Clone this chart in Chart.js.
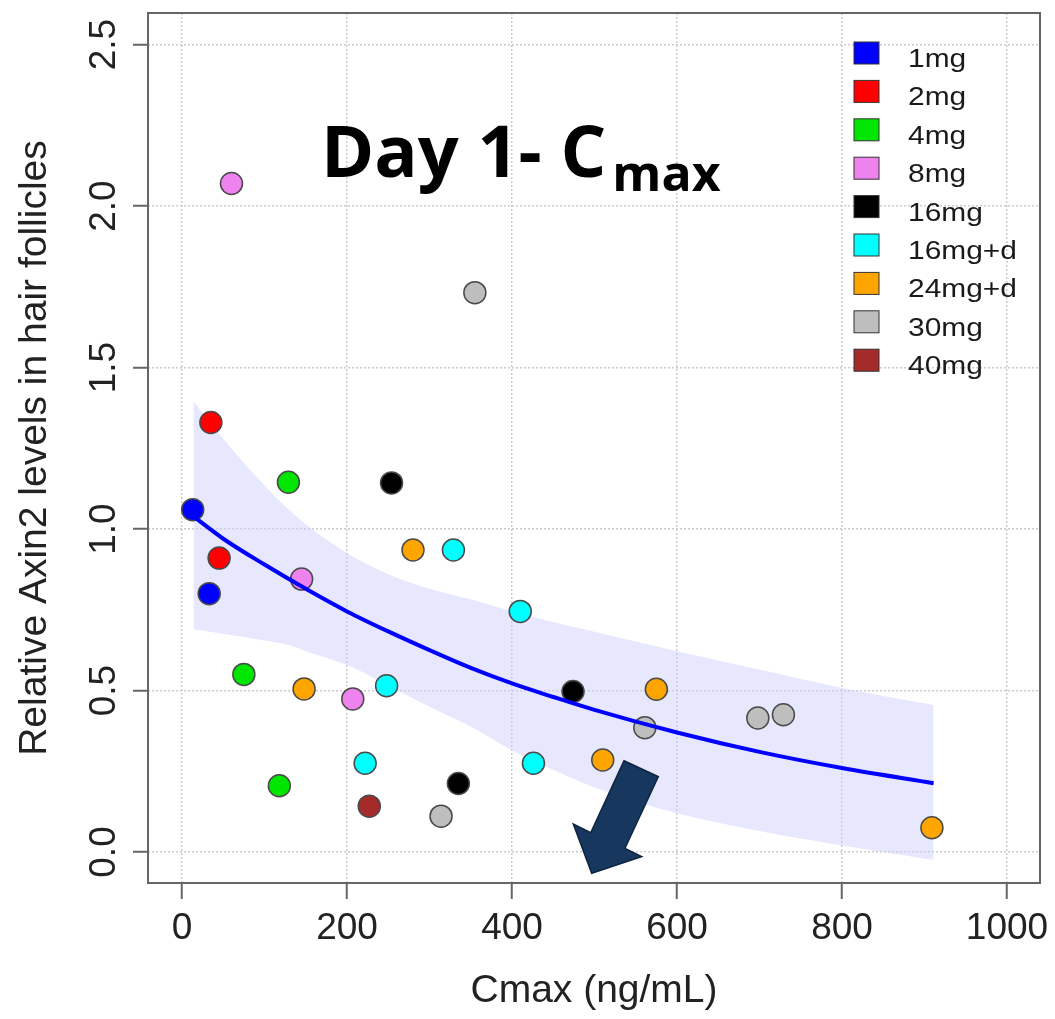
<!DOCTYPE html>
<html lang="en">
<head>
    <meta charset="UTF-8">
    <title>Day 1 - Cmax</title>
    <script src="https://cdn.jsdelivr.net/npm/chart.js"></script>
    <style>
        html, body { margin: 0; padding: 0; background: #fff; }
        #wrap { width: 1055px; height: 1019px; }
    </style>
</head>
<body>
    <div id="wrap"><canvas id="cmaxChart" width="1055" height="1019"></canvas></div>

    <script>
        // dose groups, in legend order
        const groups = ['1mg', '2mg', '4mg', '8mg', '16mg', '16mg+d', '24mg+d', '30mg', '40mg'];
        const groupColors = ['#0000ff', '#ff0000', '#00e600', '#ee82ee', '#000000', '#00ffff', '#ffa500', '#bebebe', '#a52a2a'];

        // [Cmax (ng/mL), relative Axin2] per group
        const pts1mg = [[13, 1.06], [33, 0.80]];
        const pts2mg = [[35, 1.33], [45, 0.91]];
        const pts4mg = [[129, 1.145], [75, 0.55], [118, 0.205]];
        const pts8mg = [[60, 2.07], [145, 0.845], [207, 0.474]];
        const pts16mg = [[254, 1.143], [474, 0.497], [335, 0.212]];
        const pts16mgD = [[329, 0.935], [410, 0.745], [248, 0.515], [222, 0.275], [426, 0.275]];
        const pts24mgD = [[280, 0.935], [148, 0.505], [575, 0.504], [510, 0.285], [909, 0.075]];
        const pts30mg = [[355, 1.732], [314, 0.111], [561, 0.385], [698, 0.415], [729, 0.425]];
        const pts40mg = [[227, 0.142]];
        const groupPoints = [pts1mg, pts2mg, pts4mg, pts8mg, pts16mg, pts16mgD, pts24mgD, pts30mg, pts40mg];

        // fitted curve and its confidence band
        const fitX = [15, 50, 100, 150, 200, 250, 300, 350, 400, 450, 500, 600, 700, 800, 911];
        const fitY = [1.037, 0.97, 0.89, 0.815, 0.745, 0.683, 0.625, 0.57, 0.522, 0.48, 0.44, 0.37, 0.31, 0.26, 0.213];
        const bandX = [14, 58, 100, 123, 155, 204, 250, 300, 353, 400, 450, 500, 600, 700, 800, 911];
        const bandUpper = [1.394, 1.255, 1.135, 1.075, 1.005, 0.92, 0.86, 0.815, 0.78, 0.745, 0.712, 0.682, 0.622, 0.565, 0.508, 0.455];
        const bandLower = [0.69, 0.673, 0.655, 0.645, 0.618, 0.575, 0.515, 0.45, 0.385, 0.315, 0.255, 0.2, 0.12, 0.065, 0.02, -0.025];

        const xTicks = [0, 200, 400, 600, 800, 1000];
        const yTicks = [0, 0.5, 1, 1.5, 2, 2.5];

        const axisFont = 'Liberation Sans, Arial, sans-serif';

        function pairs(xs, ys) {
            return xs.map((x, i) => ({ x: x, y: ys[i] }));
        }

        const datasets = [];

        // band (drawn at the bottom)
        datasets.push({
            label: 'upper', data: pairs(bandX, bandUpper), showLine: true,
            pointRadius: 0, borderWidth: 0, borderColor: 'rgba(0,0,0,0)',
            cubicInterpolationMode: 'monotone',
            backgroundColor: 'rgba(205,205,250,0.48)', fill: '+1', order: 10
        });
        datasets.push({
            label: 'lower', data: pairs(bandX, bandLower), showLine: true,
            pointRadius: 0, borderWidth: 0, borderColor: 'rgba(0,0,0,0)',
            cubicInterpolationMode: 'monotone', fill: false, order: 10
        });

        // points
        groups.forEach((g, i) => {
            datasets.push({
                label: g,
                data: groupPoints[i].map(p => ({ x: p[0], y: p[1] })),
                pointRadius: 11,
                pointBorderWidth: 1.5,
                pointBorderColor: '#4a4a4a',
                pointBackgroundColor: groupColors[i],
                showLine: false,
                order: 5
            });
        });

        // fitted line on top
        datasets.push({
            label: 'fit', data: pairs(fitX, fitY), showLine: true,
            pointRadius: 0, borderWidth: 4, borderColor: '#0000ff',
            cubicInterpolationMode: 'monotone', fill: false, order: 0
        });

        // box, legend, title text and arrow
        const decorPlugin = {
            id: 'decor',
            afterDraw(chart) {
                const ctx = chart.ctx;
                const a = chart.chartArea;
                ctx.save();

                // frame
                ctx.strokeStyle = '#666';
                ctx.lineWidth = 2;
                ctx.strokeRect(a.left, a.top, a.right - a.left, a.bottom - a.top);

                // legend
                ctx.textBaseline = 'alphabetic';
                ctx.textAlign = 'left';
                groups.forEach((g, i) => {
                    const cy = a.top + 40 + i * 38.4;
                    ctx.fillStyle = groupColors[i];
                    ctx.fillRect(a.left + 706, cy - 11, 25, 22);
                    ctx.strokeStyle = '#333';
                    ctx.lineWidth = 1;
                    ctx.strokeRect(a.left + 706, cy - 11, 25, 22);
                    ctx.save();
                    ctx.translate(a.left + 760, cy + 14);
                    ctx.scale(1.15, 1);
                    ctx.font = '26px ' + axisFont;
                    ctx.fillStyle = '#1a1a1a';
                    ctx.fillText(g, 0, 0);
                    ctx.restore();
                });

                // title with subscript
                ctx.fillStyle = '#000';
                ctx.font = 'bold 72px "Open Sans", sans-serif';
                const main = 'Day 1- C';
                ctx.fillText(main, a.left + 173, a.top + 164);
                const w = ctx.measureText(main).width;
                ctx.font = 'bold 50px "Open Sans", sans-serif';
                ctx.fillText('max', a.left + 173 + w + 6, a.top + 178);

                // arrow
                const arrow = [[624, 760.7], [658.3, 776.7], [625, 848.3], [641.7, 856.7],
                               [591.7, 873.3], [573.3, 824], [590.7, 832.7]];
                ctx.beginPath();
                arrow.forEach((p, i) => i ? ctx.lineTo(p[0], p[1]) : ctx.moveTo(p[0], p[1]));
                ctx.closePath();
                ctx.fillStyle = '#17375e';
                ctx.fill();
                ctx.strokeStyle = '#0d2440';
                ctx.lineWidth = 1.5;
                ctx.stroke();

                ctx.restore();
            }
        };

        const ctx = document.getElementById('cmaxChart').getContext('2d');
        const chart = new Chart(ctx, {
            type: 'scatter',
            data: { datasets: datasets },
            plugins: [decorPlugin],
            options: {
                responsive: false,
                animation: false,
                layout: { padding: { top: 13, right: 15, left: 0, bottom: 0 } },
                plugins: {
                    legend: { display: false },
                    tooltip: { enabled: false }
                },
                scales: {
                    x: {
                        type: 'linear',
                        min: -41.2,
                        max: 1040,
                        afterBuildTicks: s => { s.ticks = xTicks.map(v => ({ value: v })); },
                        afterFit: s => { s.height = 136; s.paddingLeft = 0; s.paddingRight = 0; },
                        grid: {
                            color: '#cccccc', lineWidth: 1.5,
                            tickColor: '#666', tickWidth: 2, tickLength: 16, tickBorderDash: []
                        },
                        border: { display: false, dash: [2, 2] },
                        ticks: {
                            autoSkip: false, maxRotation: 0, padding: 8,
                            color: '#222', font: { family: axisFont, size: 37 },
                            callback: v => String(v)
                        },
                        title: {
                            display: true, text: 'Cmax (ng/mL)', color: '#222',
                            font: { family: axisFont, size: 39 }, padding: { bottom: 4 }
                        }
                    },
                    y: {
                        type: 'linear',
                        min: -0.096,
                        max: 2.598,
                        afterBuildTicks: s => { s.ticks = yTicks.map(v => ({ value: v })); },
                        afterFit: s => { s.width = 148; s.paddingTop = 0; s.paddingBottom = 0; },
                        grid: {
                            color: '#cccccc', lineWidth: 1.5,
                            tickColor: '#666', tickWidth: 2, tickLength: 15, tickBorderDash: []
                        },
                        border: { display: false, dash: [2, 2] },
                        ticks: {
                            autoSkip: false, minRotation: 90, maxRotation: 90,
                            crossAlign: 'center', padding: 2,
                            color: '#222', font: { family: axisFont, size: 37 },
                            callback: v => v.toFixed(1)
                        },
                        title: {
                            display: true, text: 'Relative Axin2 levels in hair follicles', color: '#222',
                            font: { family: axisFont, size: 39 }, padding: { top: 12 }
                        }
                    }
                }
            }
        });
    </script>
</body>
</html>
